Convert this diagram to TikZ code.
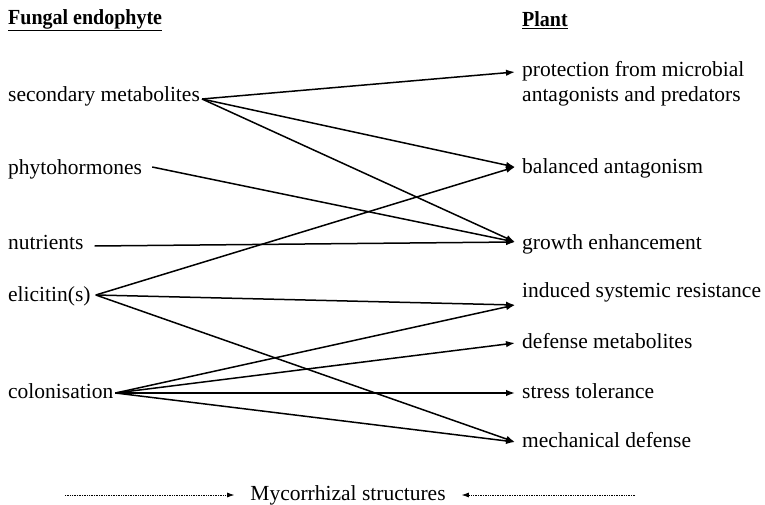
\documentclass[tikz,border=0pt]{standalone}
\usepackage{fontspec}
\setmainfont{Liberation Serif}
\usepackage{tikz}
\usetikzlibrary{positioning}
\usetikzlibrary{arrows.meta}

\begin{document}
\begin{tikzpicture}[
x=1pt, y=-1pt,
headnode/.style={anchor=west, inner sep=0pt, font=\fontsize{21.5}{25}\selectfont\bfseries},
sourcenode/.style={anchor=west, inner xsep=2pt, inner ysep=0pt, text height=0.75em, text depth=0.25em, font=\fontsize{21.5}{25}\selectfont},
effectnode/.style={anchor=west, inner xsep=7pt, inner ysep=0pt, text height=0.75em, text depth=0.25em, font=\fontsize{21.5}{25}\selectfont},
link/.style={-{Latex[length=9pt,width=6.5pt]}, line width=1.5pt},
mycolink/.style={-{Latex[length=7pt,width=5pt]}, densely dotted, line width=0.7pt},
]
\useasboundingbox (0,0) rectangle (765,505);

%Nodes
\node[headnode]   (fungus)  at (8,20)   {\scalebox{0.93}[1]{\underline{Fungal endophyte}}};
\node[headnode]   (plant)   at (522,20) {\scalebox{0.93}[1]{\underline{Plant}}};

\node[sourcenode] (secmet)  at (6,99)   {secondary metabolites};
\node[sourcenode] (phyto)   at (6,172)  {phytohormones};
\node[sourcenode] (nutr)    at (6,247)  {nutrients};
\node[sourcenode] (elic)    at (6,299)  {elicitin(s)};
\node[sourcenode] (colon)   at (6,396)  {colonisation};

\node[effectnode, anchor=north west, align=left, text height=, text depth=] (protect) at (515,61)
  {protection from microbial\\antagonists and predators};
\node[effectnode] (balanced) at (515,171) {balanced antagonism};
\node[effectnode] (growth)   at (515,247) {growth enhancement};
\node[effectnode] (isr)      at (515,295) {induced systemic resistance};
\node[effectnode] (defmet)   at (515,346) {defense metabolites};
\node[effectnode] (stress)   at (515,396) {stress tolerance};
\node[effectnode] (mechdef)  at (515,445) {mechanical defense};

\node[font=\fontsize{21.5}{25}\selectfont, inner xsep=16pt] (myco) at (348,495) {Mycorrhizal structures};
\coordinate (mycoleft)  at (65,495);
\coordinate (mycoright) at (635,495);

%Lines
\draw[link] (secmet.east) -- ([yshift=-11pt]protect.north west);
\draw[link] (secmet.east) -- ([yshift=4pt]balanced.west);
\draw[link] (secmet.east) -- ([yshift=5pt]growth.west);
\draw[link] ([xshift=8pt,yshift=5pt]phyto.east) -- ([yshift=5pt]growth.west);
\draw[link] ([xshift=9pt,yshift=1pt]nutr.east) -- ([yshift=5pt]growth.west);
\draw[link] ([xshift=3pt,yshift=4pt]elic.east) -- ([yshift=4pt]balanced.west);
\draw[link] ([xshift=3pt,yshift=4pt]elic.east) -- ([yshift=-10pt]isr.west);
\draw[link] ([xshift=3pt,yshift=4pt]elic.east) -- ([yshift=3pt]mechdef.west);
\draw[link] ([yshift=3pt]colon.east) -- ([yshift=-10pt]isr.west);
\draw[link] ([yshift=3pt]colon.east) -- ([yshift=3pt]defmet.west);
\draw[link] ([yshift=3pt]colon.east) -- ([yshift=3pt]stress.west);
\draw[link] ([yshift=3pt]colon.east) -- ([yshift=3pt]mechdef.west);

\draw[mycolink] (mycoleft) -- (myco.west);
\draw[mycolink] (mycoright) -- (myco.east);
\end{tikzpicture}
\end{document}
